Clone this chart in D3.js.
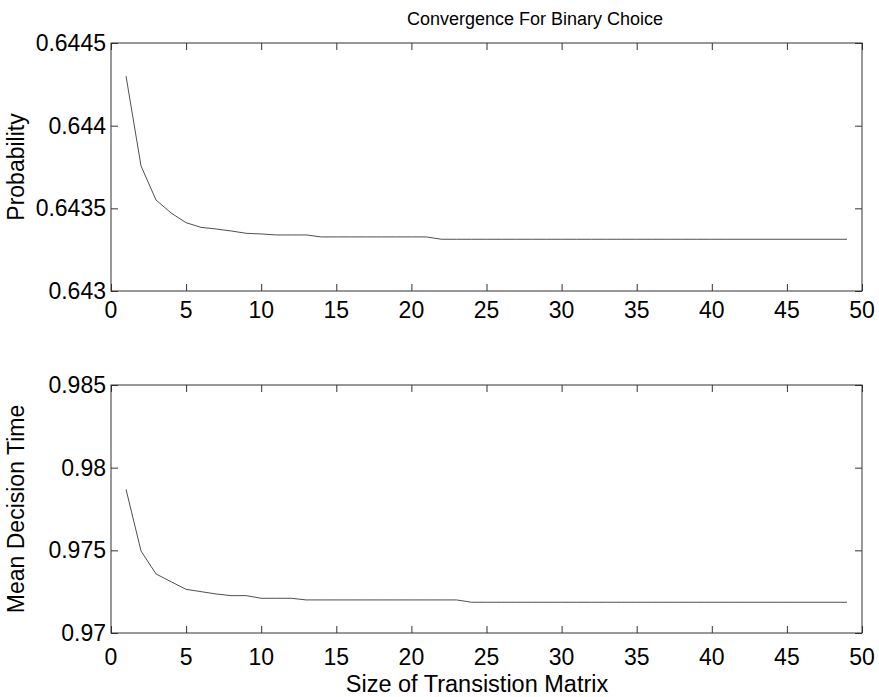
<!DOCTYPE html>
<html>
<head>
<meta charset="utf-8">
<script src="https://cdn.jsdelivr.net/npm/d3@7"></script>
<style>
  body { margin: 0; background: #fff; }
  text { font-family: "Liberation Sans", Arial, sans-serif; fill: #000; }
</style>
</head>
<body>
<div id="chart"></div>
<script>
// matrix sizes (x)
var sizes = [1, 2, 3, 4, 5, 6, 7, 8, 9, 10,
             11, 12, 13, 14, 15, 16, 17, 18, 19, 20,
             21, 22, 23, 24, 25, 26, 27, 28, 29, 30,
             31, 32, 33, 34, 35, 36, 37, 38, 39, 40,
             41, 42, 43, 44, 45, 46, 47, 48, 49];

var probability = [0.64430, 0.643756, 0.64355, 0.643472, 0.643413, 0.643385, 0.643375, 0.643363, 0.643349, 0.643345,
                   0.643339, 0.643339, 0.643339, 0.643327, 0.643327, 0.643327, 0.643327, 0.643327, 0.643327, 0.643327,
                   0.643327, 0.643313, 0.643313, 0.643313, 0.643313, 0.643313, 0.643313, 0.643313, 0.643313, 0.643313,
                   0.643313, 0.643313, 0.643313, 0.643313, 0.643313, 0.643313, 0.643313, 0.643313, 0.643313, 0.643313,
                   0.643313, 0.643313, 0.643313, 0.643313, 0.643313, 0.643313, 0.643313, 0.643313, 0.643313];

var decisionTime = [0.97869, 0.97496, 0.97357, 0.97310, 0.97264, 0.97250, 0.97236, 0.97226, 0.97226, 0.97210,
                    0.97210, 0.97210, 0.97200, 0.97200, 0.97200, 0.97200, 0.97200, 0.97200, 0.97200, 0.97200,
                    0.97200, 0.97200, 0.97200, 0.97186, 0.97186, 0.97186, 0.97186, 0.97186, 0.97186, 0.97186,
                    0.97186, 0.97186, 0.97186, 0.97186, 0.97186, 0.97186, 0.97186, 0.97186, 0.97186, 0.97186,
                    0.97186, 0.97186, 0.97186, 0.97186, 0.97186, 0.97186, 0.97186, 0.97186, 0.97186];

var xTicks = [0, 5, 10, 15, 20, 25, 30, 35, 40, 45, 50];
var probTicks = [0.643, 0.6435, 0.644, 0.6445];
var timeTicks = [0.97, 0.975, 0.98, 0.985];

var chartTitle = "Convergence For Binary Choice";
var xTitle = "Size of Transistion Matrix";

var W = 879, H = 697;
var left = 111, right = 862;
var fontSize = 23;

var svg = d3.select("#chart")
    .append("svg")
    .attr("width", W)
    .attr("height", H);

var x = d3.scaleLinear()
    .domain([0, 50])
    .range([left, right]);

function label(g, tx, ty, str, anchor, size, rotate) {
    return g.append("text")
        .attr("transform", "translate(" + tx + "," + ty + ")" + (rotate ? " rotate(-90)" : ""))
        .attr("text-anchor", anchor)
        .style("font-size", size + "px")
        .text(str);
}

function draw_panel(top, bottom, values, yDomain, yTicks, yLabel, labelGap) {
    var y = d3.scaleLinear()
        .domain(yDomain)
        .range([bottom, top]);

    var g = svg.append("g");

    // inward ticks on all four sides
    g.append("g")
        .attr("transform", "translate(0," + bottom + ")")
        .call(d3.axisBottom(x).tickValues(xTicks).tickSize(-7).tickFormat(""))
        .call(function(a) { a.select(".domain").remove(); });
    g.append("g")
        .attr("transform", "translate(0," + top + ")")
        .call(d3.axisTop(x).tickValues(xTicks).tickSize(-7).tickFormat(""))
        .call(function(a) { a.select(".domain").remove(); });
    g.append("g")
        .attr("transform", "translate(" + left + ",0)")
        .call(d3.axisLeft(y).tickValues(yTicks).tickSize(-7).tickFormat(""))
        .call(function(a) { a.select(".domain").remove(); });
    g.append("g")
        .attr("transform", "translate(" + right + ",0)")
        .call(d3.axisRight(y).tickValues(yTicks).tickSize(-7).tickFormat(""))
        .call(function(a) { a.select(".domain").remove(); });
    g.selectAll(".tick line").attr("stroke", "#333");

    g.append("rect")
        .attr("x", left)
        .attr("y", top)
        .attr("width", right - left)
        .attr("height", bottom - top)
        .attr("fill", "none")
        .attr("stroke", "#333")
        .attr("stroke-width", 1);

    // tick labels
    xTicks.forEach(function(v) {
        label(g, x(v), bottom + labelGap, String(v), "middle", fontSize, false);
    });
    yTicks.forEach(function(v) {
        label(g, left - 5, y(v) + 8, String(v), "end", fontSize, false);
    });

    label(g, 24, (top + bottom) / 2, yLabel, "middle", fontSize, true);

    var line = d3.line()
        .x(function(d, i) { return x(sizes[i]); })
        .y(function(d) { return y(d); });

    g.append("path")
        .datum(values)
        .attr("d", line)
        .attr("fill", "none")
        .attr("stroke", "#222")
        .attr("stroke-width", 0.8);
}

draw_panel(43, 291, probability, [0.643, 0.6445], probTicks, "Probability", 27);
draw_panel(385, 633, decisionTime, [0.97, 0.985], timeTicks, "Mean Decision Time", 32);

label(svg, 535, 25, chartTitle, "middle", 18, false);
label(svg, 477, 692, xTitle, "middle", 23.5, false);
</script>
</body>
</html>
